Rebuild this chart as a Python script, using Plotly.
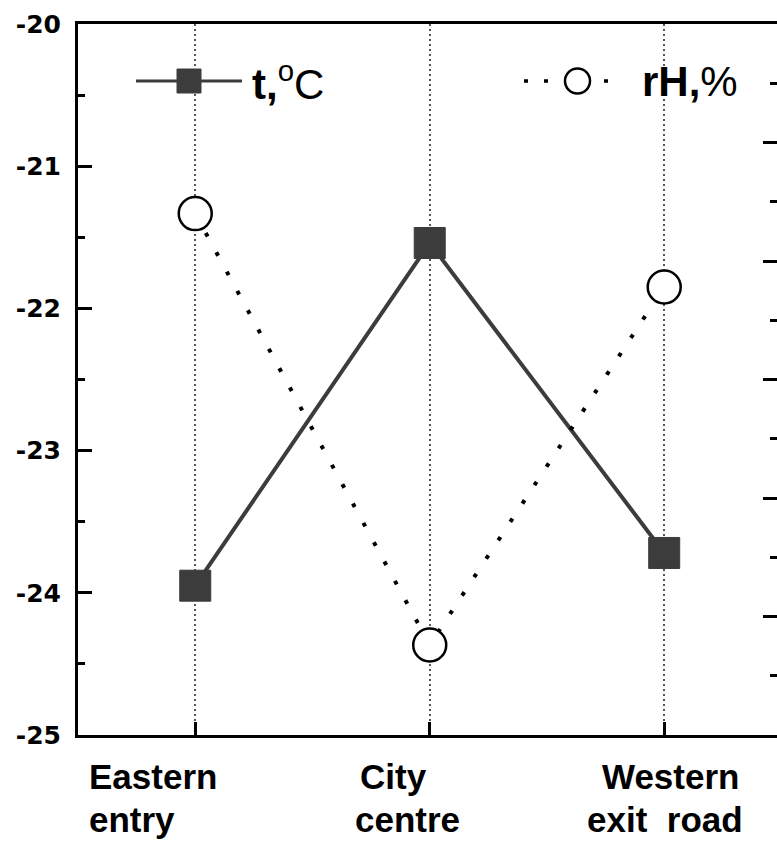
import plotly.graph_objects as go

# ---- data ----
cat_line1 = ["Eastern", "City", "Western"]
cat_line2 = ["entry", "centre", "exit\u00a0\u00a0road"]
categories = [a + " " + b for a, b in zip(cat_line1, cat_line2)]
temperature = [-23.95, -21.54, -23.72]      # t, °C (left axis)
rel_humidity = [92.0, 73.8, 88.9]           # rH, % (right axis, labels cut off)
y_ticks = [-25, -24, -23, -22, -21, -20]
y_ticktext = ["-25", "-24", "-23", "-22", "-21", "-20"]
y_minor = [-24.5, -23.5, -22.5, -21.5, -20.5]
y2_ticks = [70, 75, 80, 85, 90, 95, 100]
y2_minor = [72.5, 77.5, 82.5, 87.5, 92.5, 97.5]

# ---- layout geometry (pixels) ----
W, H = 777, 841
L, R, T, B = 78, 0, 24, 106
PW, PH = W - L - R, H - T - B
def px(x):
    return (x - L) / PW
def py(y):
    return (H - B - y) / PH

FONT = "Arial, Liberation Sans, Helvetica, sans-serif"
TICKFONT = "DejaVu Sans, Arial, sans-serif"
DARK = "#3c3c3c"

fig = go.Figure()
fig.add_trace(go.Scatter(
    x=categories, y=temperature, mode="lines+markers", name="t,°C",
    line=dict(color=DARK, width=4),
    marker=dict(symbol="square", size=31, color=DARK, line=dict(width=1, color=DARK)),
))
fig.add_trace(go.Scatter(
    x=categories, y=rel_humidity, yaxis="y2", mode="lines+markers", name="rH,%",
    line=dict(color="black", width=4, dash="4px,18px"),
    marker=dict(symbol="circle", size=33, color="white", line=dict(width=2.5, color="black")),
))

fig.update_layout(
    width=W, height=H,
    margin=dict(l=L, r=R, t=T, b=B, pad=0),
    paper_bgcolor="white", plot_bgcolor="white",
    showlegend=False,
    font=dict(family=FONT, color="black"),
    xaxis=dict(
        type="category", categoryorder="array", categoryarray=categories,
        range=[-0.5, 2.481], showticklabels=False,
        showline=True, linewidth=3, linecolor="black", mirror=True,
        ticks="inside", ticklen=13, tickwidth=3, tickcolor="black",
        showgrid=True, gridcolor="#555555", griddash="2px,3px", gridwidth=1.5,
        zeroline=False,
    ),
    yaxis=dict(
        range=[-25, -20], tickmode="array", tickvals=y_ticks, ticktext=y_ticktext,
        showline=True, linewidth=3, linecolor="black", mirror=False,
        ticks="inside", ticklen=14, tickwidth=3, tickcolor="black",
        tickfont=dict(size=25, family=TICKFONT, color="black", weight="bold"),
        ticklabelstandoff=9,
        minor=dict(tickmode="array", tickvals=y_minor, ticks="inside", ticklen=7,
                   tickwidth=3, tickcolor="black", showgrid=False),
        showgrid=False, zeroline=False,
    ),
    yaxis2=dict(
        overlaying="y", side="right", anchor="x",
        range=[70, 100], tickmode="array", tickvals=y2_ticks, showticklabels=False,
        ticks="inside", ticklen=14, tickwidth=3, tickcolor="black",
        minor=dict(tickmode="array", tickvals=y2_minor, ticks="inside", ticklen=7,
                   tickwidth=3, tickcolor="black", showgrid=False),
        showline=False, showgrid=False, zeroline=False,
    ),
)

# ---- category labels (two lines, positioned as in the original) ----
line1_shift = [(-108, "left"), (-72, "left"), (77, "right")]
line2_shift = [(-108, "left"), (-77, "left"), (81, "right")]
for i, c in enumerate(categories):
    for txt, (sh, anc), ys in ((cat_line1[i], line1_shift[i], -41), (cat_line2[i], line2_shift[i], -84)):
        fig.add_annotation(
            x=c, xref="x", y=0, yref="paper", text=txt, showarrow=False,
            xanchor=anc, yanchor="middle", xshift=sh, yshift=ys, align=anc,
            font=dict(size=35, family=FONT, color="black", weight="bold"),
        )

# ---- legend (drawn manually) ----
ly = 81
shapes = []
shapes.append(dict(type="line", xref="paper", yref="paper", x0=px(136), x1=px(242),
                   y0=py(ly), y1=py(ly), line=dict(color=DARK, width=3)))
shapes.append(dict(type="rect", xref="paper", yref="paper", x0=px(177), x1=px(201),
                   y0=py(ly + 12), y1=py(ly - 12), line=dict(color=DARK, width=1), fillcolor=DARK))
shapes.append(dict(type="line", xref="paper", yref="paper", x0=px(524), x1=px(622),
                   y0=py(ly), y1=py(ly), line=dict(color="black", width=3.5, dash="4px,16px")))
shapes.append(dict(type="circle", xref="paper", yref="paper", x0=px(565), x1=px(590),
                   y0=py(ly + 12.5), y1=py(ly - 12.5), line=dict(color="black", width=2.5),
                   fillcolor="white"))
fig.update_layout(shapes=shapes)

fig.add_annotation(x=px(250), y=py(ly), xref="paper", yref="paper", showarrow=False,
                   xanchor="left", yanchor="middle", text="<b>t,</b><sup>o</sup>C",
                   font=dict(size=42, family=FONT, color="black"))
fig.add_annotation(x=px(640), y=py(ly), xref="paper", yref="paper", showarrow=False,
                   xanchor="left", yanchor="middle", text="<b>rH,</b>%",
                   font=dict(size=42, family=FONT, color="black"))

fig.write_html("out.html", config={"displayModeBar": False},
               post_script="document.body.style.margin='0px';document.body.style.overflow='hidden';")
